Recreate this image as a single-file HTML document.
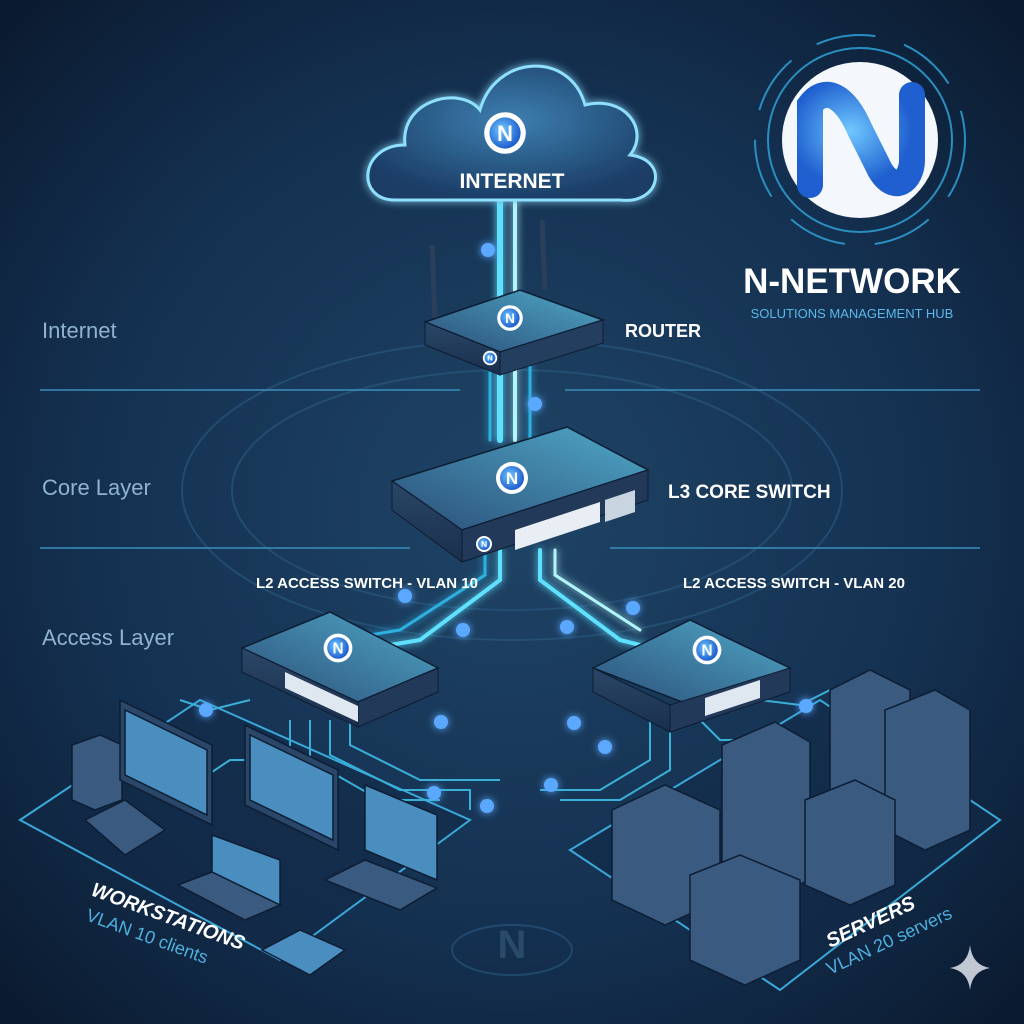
<!DOCTYPE html>
<html><head><meta charset="utf-8"><style>
html,body{margin:0;padding:0;background:#0d1d33}
svg{display:block}
text{font-family:"Liberation Sans",sans-serif}
</style></head><body>
<svg width="1024" height="1024" viewBox="0 0 1024 1024" xmlns="http://www.w3.org/2000/svg">
<defs>
<radialGradient id="bg" cx="50%" cy="50%" r="70%">
<stop offset="0" stop-color="#1f4466"/><stop offset="0.6" stop-color="#143050"/><stop offset="1" stop-color="#0a1a2f"/>
</radialGradient>
<linearGradient id="top" x1="0" y1="1" x2="1" y2="0"><stop offset="0" stop-color="#2c4f78"/><stop offset="1" stop-color="#4fa8c8"/></linearGradient>
<linearGradient id="side" x1="0" y1="0" x2="0" y2="1"><stop offset="0" stop-color="#2a4668"/><stop offset="1" stop-color="#1a2f4c"/></linearGradient>
<linearGradient id="beam" x1="0" y1="0" x2="1" y2="0"><stop offset="0" stop-color="#1c8fc0" stop-opacity="0"/><stop offset="0.5" stop-color="#8ff0ff"/><stop offset="1" stop-color="#1c8fc0" stop-opacity="0"/></linearGradient>
<radialGradient id="logo" cx="40%" cy="40%" r="60%"><stop offset="0" stop-color="#6fc8ff"/><stop offset="1" stop-color="#1f5fcf"/></radialGradient>
<radialGradient id="cloud" cx="50%" cy="40%" r="60%"><stop offset="0" stop-color="#3d7fb0"/><stop offset="1" stop-color="#1b3d66"/></radialGradient>
<filter id="glow"><feGaussianBlur stdDeviation="4" result="b"/><feMerge><feMergeNode in="b"/><feMergeNode in="SourceGraphic"/></feMerge></filter>
<g id="nlogo"><circle r="16" fill="#fff"/><circle r="12" fill="url(#logo)"/><text y="6" text-anchor="middle" font-size="17" font-weight="bold" fill="#fff">N</text></g>
</defs>
<rect width="1024" height="1024" fill="url(#bg)"/>
<!-- background rings -->
<g fill="none" stroke="#2a5a80" stroke-width="2" opacity="0.6">
<ellipse cx="512" cy="490" rx="330" ry="150"/>
<ellipse cx="512" cy="490" rx="280" ry="120"/>
<ellipse cx="512" cy="950" rx="60" ry="25"/>
</g>
<!-- layer lines -->
<g stroke="#3a8fbf" stroke-width="1.5">
<line x1="40" y1="390" x2="460" y2="390"/><line x1="565" y1="390" x2="980" y2="390"/>
<line x1="40" y1="548" x2="410" y2="548"/><line x1="610" y1="548" x2="980" y2="548"/>
</g>
<text x="42" y="338" font-size="22" fill="#8fb3d0">Internet</text>
<text x="42" y="495" font-size="22" fill="#8fb3d0">Core Layer</text>
<text x="42" y="645" font-size="22" fill="#8fb3d0">Access Layer</text>
<!-- platforms -->
<g fill="#132a47" fill-opacity="0.6" stroke="#3aa8d8" stroke-width="2">
<polygon points="20,820 200,700 470,820 280,960"/>
<polygon points="570,850 820,700 1000,820 780,990"/>
</g>
<!-- beams -->
<g filter="url(#glow)" fill="none" stroke-linecap="round">
<path d="M500,200 V440" stroke="#5fe0ff" stroke-width="6"/>
<path d="M515,200 V440" stroke="#b0f6ff" stroke-width="4"/>
<path d="M490,350 V440 M530,350 V440" stroke="#2fb0e0" stroke-width="3"/>
<path d="M500,550 V580 L420,640 L360,650" stroke="#5fe0ff" stroke-width="4"/>
<path d="M485,550 V575 L400,630 L340,640" stroke="#2fb0e0" stroke-width="3"/>
<path d="M540,550 V580 L620,640 L660,650" stroke="#5fe0ff" stroke-width="4"/>
<path d="M555,550 V575 L640,630" stroke="#b0f6ff" stroke-width="3"/>
</g>
<g fill="none" stroke="#3ab0d8" stroke-width="2">
<path d="M310,720 L310,760 L380,800 L440,800"/>
<path d="M330,720 L330,755 L400,790 L470,790 L470,810"/>
<path d="M350,720 L350,745 L420,780 L500,780"/>
<path d="M290,720 L290,760 L230,760 L200,780"/>
<path d="M250,700 L210,710 L180,700"/>
<path d="M650,720 L650,760 L600,790 L540,790"/>
<path d="M670,720 L670,770 L620,800 L560,800"/>
<path d="M700,720 L720,740 L780,740"/>
<path d="M760,700 L800,705 L830,690"/>
</g>
<g fill="#5aa8ff" filter="url(#glow)">
<circle cx="488" cy="250" r="7"/><circle cx="535" cy="404" r="7"/>
<circle cx="405" cy="596" r="7"/><circle cx="463" cy="630" r="7"/>
<circle cx="567" cy="627" r="7"/><circle cx="633" cy="608" r="7"/>
<circle cx="206" cy="710" r="7"/><circle cx="441" cy="722" r="7"/>
<circle cx="434" cy="793" r="7"/><circle cx="487" cy="806" r="7"/>
<circle cx="551" cy="785" r="7"/><circle cx="574" cy="723" r="7"/>
<circle cx="605" cy="747" r="7"/><circle cx="806" cy="706" r="7"/>
</g>
<!-- cloud -->
<g filter="url(#glow)">
<path d="M395,200 C355,200 360,145 405,145 C400,100 460,85 480,110 C495,55 570,50 585,105 C625,95 650,130 630,155 C670,160 660,205 620,200 Z" fill="url(#cloud)" stroke="#8fe0ff" stroke-width="3"/>
</g>
<use href="#nlogo" transform="translate(505,133) scale(1.3)"/>
<text x="512" y="188" text-anchor="middle" font-size="21" font-weight="bold" fill="#fff">INTERNET</text>
<!-- big logo -->
<g fill="none" stroke="#2a8fc0" stroke-width="2"><circle cx="860" cy="140" r="92"/><circle cx="860" cy="140" r="105" stroke-dasharray="60 30"/></g>
<circle cx="860" cy="140" r="78" fill="#f4f8fc"/>
<path d="M810,185 L810,105 C825,85 845,95 860,130 L880,170 C895,195 912,180 912,160 L912,95" fill="none" stroke="url(#logo)" stroke-width="26" stroke-linecap="round"/>
<text x="852" y="293" text-anchor="middle" font-size="35" font-weight="bold" fill="#fff">N-NETWORK</text>
<text x="852" y="318" text-anchor="middle" font-size="13" fill="#5ab8e8">SOLUTIONS MANAGEMENT HUB</text>
<!-- router -->
<line x1="435" y1="320" x2="432" y2="245" stroke="#2a3f5a" stroke-width="5"/>
<line x1="545" y1="290" x2="542" y2="220" stroke="#2a3f5a" stroke-width="5"/>
<polygon points="425,322 520,290 603,320 500,352" fill="url(#top)" stroke="#0d1d33" stroke-width="1.5"/>
<polygon points="425,322 500,352 500,375 425,345" fill="url(#side)" stroke="#0d1d33"/>
<polygon points="500,352 603,320 603,343 500,375" fill="#243e60" stroke="#0d1d33"/>
<use href="#nlogo" transform="translate(510,318) scale(0.8)"/>
<use href="#nlogo" transform="translate(490,358) scale(0.45)"/>
<text x="625" y="337" font-size="18" font-weight="bold" fill="#fff">ROUTER</text>
<!-- core switch -->
<polygon points="392,481 567,427 648,470 462,530" fill="url(#top)" stroke="#0d1d33" stroke-width="1.5"/>
<polygon points="392,481 462,530 462,562 392,510" fill="url(#side)" stroke="#0d1d33"/>
<polygon points="462,530 648,470 648,500 462,562" fill="#22395a" stroke="#0d1d33"/>
<polygon points="515,530 600,502 600,522 515,550" fill="#e8eef4"/>
<polygon points="605,500 635,490 635,512 605,522" fill="#c8d4e0"/>
<use href="#nlogo" transform="translate(512,478) scale(1)"/>
<use href="#nlogo" transform="translate(484,544) scale(0.5)"/>
<text x="668" y="498" font-size="19" font-weight="bold" fill="#fff">L3 CORE SWITCH</text>
<!-- access switches -->
<text x="256" y="588" font-size="15" font-weight="bold" fill="#fff">L2 ACCESS SWITCH - VLAN 10</text>
<text x="683" y="588" font-size="15" font-weight="bold" fill="#fff">L2 ACCESS SWITCH - VLAN 20</text>
<polygon points="242,648 330,612 438,668 358,702" fill="url(#top)" stroke="#0d1d33" stroke-width="1.5"/>
<polygon points="242,648 358,702 358,727 242,672" fill="url(#side)" stroke="#0d1d33"/>
<polygon points="358,702 438,668 438,692 358,727" fill="#22395a" stroke="#0d1d33"/>
<polygon points="285,672 358,706 358,722 285,688" fill="#dfe8f0"/>
<use href="#nlogo" transform="translate(338,648) scale(0.9)"/>
<polygon points="593,668 690,620 790,668 690,705" fill="url(#top)" stroke="#0d1d33" stroke-width="1.5"/>
<polygon points="593,668 670,705 670,732 593,692" fill="url(#side)" stroke="#0d1d33"/>
<polygon points="670,705 790,668 790,692 670,732" fill="#22395a" stroke="#0d1d33"/>
<polygon points="705,698 760,680 760,698 705,716" fill="#dfe8f0"/>
<use href="#nlogo" transform="translate(707,650) scale(0.9)"/>
<!-- workstations -->
<g stroke="#0d1d33" stroke-width="1.5">
<polygon points="72,745 100,735 122,745 122,800 95,810 72,800" fill="#3a5a80"/>
<polygon points="120,700 212,745 212,825 120,780" fill="#2a4668"/><polygon points="125,710 207,750 207,815 125,775" fill="#4a8ec0"/>
<polygon points="245,725 338,770 338,850 245,805" fill="#2a4668"/><polygon points="250,735 333,775 333,840 250,800" fill="#4a8ec0"/>
<polygon points="85,820 125,800 165,830 125,855" fill="#3a5a80"/>
<polygon points="212,835 280,860 280,905 212,880" fill="#4a8ec0"/><polygon points="178,885 212,872 280,905 245,920" fill="#3a5a80"/>
<polygon points="365,785 437,815 437,880 365,850" fill="#4a8ec0"/><polygon points="325,880 365,860 437,888 400,910" fill="#3a5a80"/>
<polygon points="262,950 300,930 345,950 310,975" fill="#4a8ec0"/>
</g>
<!-- servers -->
<g stroke="#0d1d33" stroke-width="1.5">
<polygon points="830,690 870,670 910,690 910,820 870,840 830,820" fill="#3a5a80"/>
<polygon points="885,710 935,690 970,710 970,830 925,850 885,830" fill="#3a5a80"/>
<polygon points="722,745 775,722 810,742 810,880 760,900 722,880" fill="#3a5a80"/>
<polygon points="805,800 855,780 895,800 895,885 850,905 805,885" fill="#3a5a80"/>
<polygon points="612,810 665,785 720,810 720,900 665,925 612,900" fill="#3a5a80"/>
<polygon points="690,875 740,855 800,880 800,960 745,985 690,960" fill="#3a5a80"/>
</g>
<text x="90" y="895" font-size="20" font-weight="bold" font-style="italic" fill="#fff" transform="rotate(20 90 895)">WORKSTATIONS</text>
<text x="85" y="920" font-size="18" fill="#4fb0e0" transform="rotate(20 85 920)">VLAN 10 clients</text>
<text x="830" y="948" font-size="20" font-weight="bold" font-style="italic" fill="#fff" transform="rotate(-25 830 948)">SERVERS</text>
<text x="830" y="975" font-size="18" fill="#4fb0e0" transform="rotate(-25 830 975)">VLAN 20 servers</text>
<text x="512" y="958" text-anchor="middle" font-size="40" font-weight="bold" fill="#2a4a6a">N</text>
<path d="M970,945 Q972,965 990,968 Q972,971 970,990 Q968,971 950,968 Q968,965 970,945Z" fill="#c0c8d4"/>
</svg>
</body></html>
